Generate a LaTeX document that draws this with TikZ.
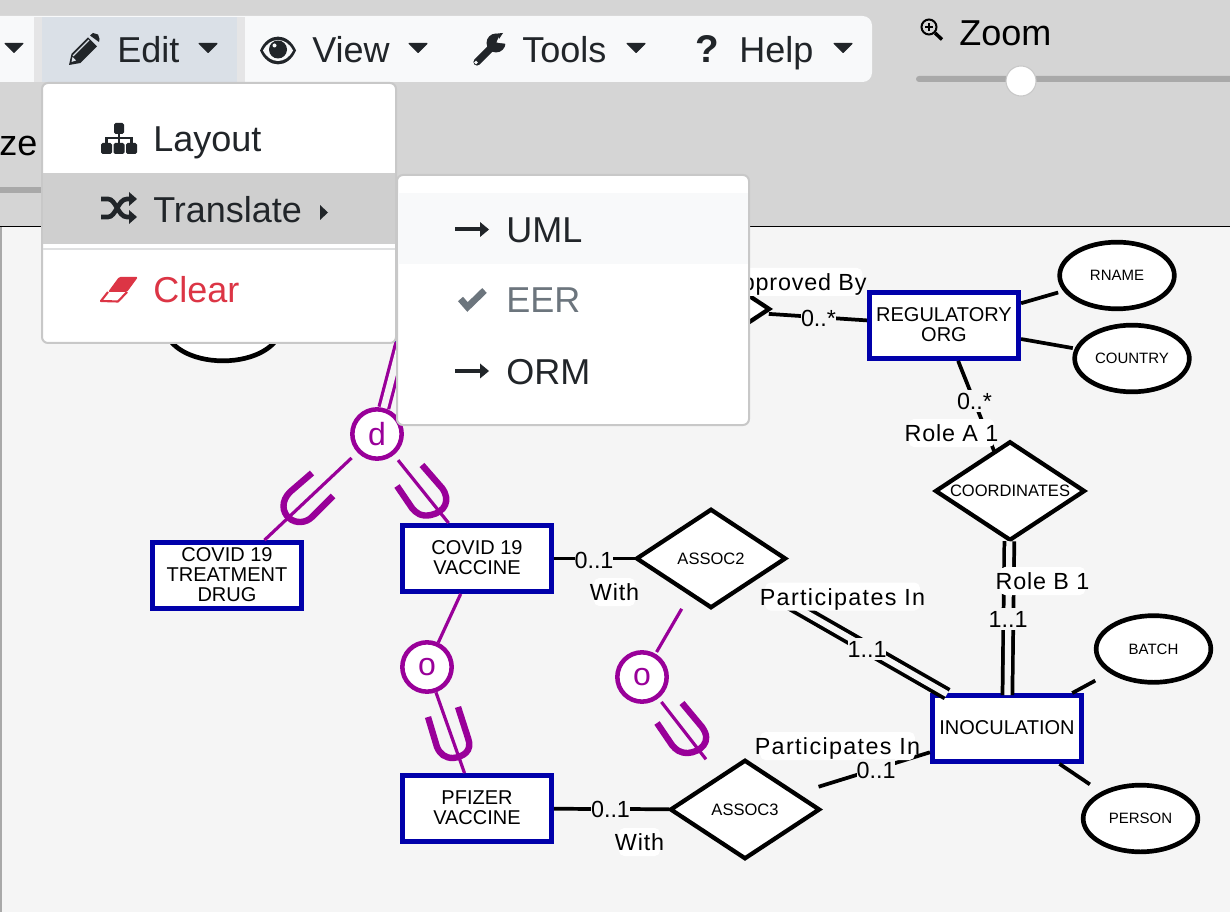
\documentclass[tikz,border=0pt]{standalone}
\usepackage{fontspec}
\setmainfont{Liberation Sans}
\newfontfamily\labfont[LetterSpace=3.5]{Liberation Sans}
\newfontfamily\partfont[LetterSpace=5.8]{Liberation Sans}
\usetikzlibrary{shapes.geometric}
\definecolor{canvasbg}{HTML}{F5F5F5}
\definecolor{panelbg}{HTML}{D5D5D5}
\definecolor{navbg}{HTML}{F8F9FA}
\definecolor{editbg}{HTML}{DAE0E7}
\definecolor{ink}{HTML}{212529}
\definecolor{mutedink}{HTML}{6C757D}
\definecolor{danger}{HTML}{DC3545}
\definecolor{eerblue}{HTML}{0000AA}
\definecolor{eerpurple}{HTML}{990099}
\definecolor{trackgray}{HTML}{A9A9A9}
\definecolor{menuedge}{HTML}{C8C8C8}
\tikzset{
  x=0.75pt,y=-0.75pt,
  entity/.style={draw=eerblue,fill=white,line width=3.6pt,minimum width=112pt,minimum height=49.5pt,inner sep=0pt,outer sep=1.8pt,label={[align=center,yshift=0.8pt,font=\fontsize{15}{15}\selectfont]center:#1}},
  attrib/.style={draw=black,fill=white,ellipse,line width=3.5pt,minimum width=86pt,minimum height=50pt,inner sep=0pt,outer sep=1.75pt,font=\fontsize{11.25}{11.25}\selectfont},
  relate/.style={draw=black,fill=white,diamond,line width=3.2pt,minimum width=112pt,minimum height=74pt,inner sep=0pt,outer sep=1pt,label={[font=\fontsize{12.4}{12.4}\selectfont]center:#1}},
  conn/.style={draw=black,line width=2.8pt},
  dbl/.style={draw=black,line width=2.8pt,double=canvasbg,double distance=4.6pt},
  special/.style={draw=eerpurple,fill=white,circle,line width=3.4pt,minimum size=37pt,inner sep=0pt,outer sep=1.7pt,text=eerpurple,font=\fontsize{24}{24}\selectfont},
  plink/.style={draw=eerpurple,line width=2.4pt},
  pdbl/.style={draw=eerpurple,line width=2.4pt,double=canvasbg,double distance=5pt},
  subset/.style={draw=eerpurple,line width=4.8pt},
  tag/.style={fill=white,rounded corners=4pt,inner xsep=-3pt,inner ysep=0pt,text height=16.9pt,text depth=4.1pt,font=\fontsize{17.5}{17.5}\labfont},
  parttag/.style={tag,inner xsep=-4pt,font=\fontsize{17.5}{17.5}\partfont},
  card/.style={fill=canvasbg,inner xsep=0pt,inner ysep=1.5pt,text height=13pt,text depth=0pt,font=\fontsize{17.5}{17.5}\selectfont},
  menutext/.style={anchor=base west,inner sep=0pt,text=ink,font=\fontsize{27}{27}\selectfont},
  menubox/.style={draw=menuedge,fill=white,line width=1.5pt,rounded corners=4.5pt},
  caret/.style={fill=ink,draw=ink,line width=0.8pt,line join=round},
}
\begin{document}
\begin{tikzpicture}
\useasboundingbox (0,0) rectangle (1230,912);
% ---- panel and canvas
\fill[panelbg] (0,0) rectangle (1230,227);
\fill[canvasbg] (0,227) rectangle (1230,912);
\fill[trackgray] (0,227) rectangle (2,912);
\draw[black,line width=0.9pt] (0,226.5) -- (1230,226.5);
% ---- entities
\node[entity={REGULATORY\\ORG}] (reg) at (944,325.5) {};
\node[entity={}] (hidden) at (410,308) {};
\node[entity={COVID 19\\TREATMENT\\DRUG}] (treat) at (227,575.5) {};
\node[entity={COVID 19\\VACCINE}] (vacc) at (477,558.5) {};
\node[entity={PFIZER\\VACCINE}] (pfizer) at (477,808.5) {};
\node[entity={INOCULATION}] (inoc) at (1007,728.5) {};
% ---- attributes
\node[attrib] (rname) at (1117,275.5) {RNAME};
\node[attrib] (country) at (1132,358.5) {COUNTRY};
\node[attrib] (batch) at (1153.5,649) {BATCH};
\node[attrib] (person) at (1140.5,818.5) {PERSON};
\node[attrib] (hiddenattr) at (223,327.5) {};
% ---- relationships
\node[relate={}] (approved) at (695,309) {};
\node[relate={COORDINATES}] (coord) at (1010,491) {};
\node[relate={ASSOC2}] (assoctwo) at (711,558.5) {};
\node[relate={ASSOC3}] (assocthree) at (745,809.5) {};
% ---- specialisation circles
\node[special] (dcirc) at (377,434) {d};
\node[special] (ocirc) at (427,667) {o};
\node[special] (otwo) at (642,677) {o};
% ---- connectors
\draw[conn,shorten >=4pt] (reg) -- (rname);
\draw[conn,shorten >=1.5pt] (reg) -- (country);
\draw[conn,shorten >=12pt] (inoc) -- (batch);
\draw[conn,shorten >=10pt] (inoc) -- (person);
\draw[conn,shorten <=3.5pt] (approved) -- (reg);
\draw[conn] (reg) -- (coord);
\draw[conn] (vacc) -- (assoctwo);
\draw[conn] (pfizer) -- (assocthree);
\draw[conn,shorten <=17pt] (assocthree) -- (inoc);
\draw[dbl,shorten >=-1.5pt] (coord) -- (inoc);
\draw[dbl,shorten <=18pt,shorten >=-1.5pt] (assoctwo) -- (inoc);
% ---- purple links
\draw[pdbl] (hidden) -- (dcirc);
\draw[plink,shorten <=6pt] (dcirc) -- (treat);
\draw[plink,shorten <=5pt] (dcirc) -- (vacc);
\draw[plink] (vacc) -- (ocirc);
\draw[plink] (ocirc) -- (pfizer);
\draw[plink,shorten <=12pt,shorten >=1.5pt] (assoctwo) -- (otwo);
\draw[plink,shorten <=3.5pt,shorten >=16pt] (otwo) -- (assocthree);
% ---- subset marks
\draw[subset] (312,473) -- (290,492) .. controls (281,501) and (282,512) .. (289,518) .. controls (296,524) and (306,523) .. (312,517) -- (333,496);
\draw[subset] (422,465) -- (442,488) .. controls (451,500) and (445,512) .. (431,515) .. controls (421,517) and (416,513) .. (412,508) -- (397,486);
\draw[subset] (458,707) -- (468,738) .. controls (473,751) and (463,757) .. (453,758) .. controls (445,758) and (440,754) .. (437,747) -- (428,717);
\draw[subset] (682,703) -- (702,727) .. controls (713,742) and (700,752) .. (688,753) .. controls (680,753) and (676,750) .. (672,745) -- (657,723);
% ---- connector labels
\node[tag] (lapp) at (796,282) {Approved By};
\node[card] (lappc) at (818.5,318) {0..*};
\node[card] (lregc) at (974.5,401) {0..*};
\node[tag] (lrolea) at (951.5,433) {Role A 1};
\node[tag] (lroleb) at (1042.5,581) {Role B 1};
\node[card] (lrolebc) at (1008,619) {1..1};
\node[parttag] (lpart) at (842.5,596.5) {Participates In};
\node[card] (lpartc) at (867,649) {1..1};
\node[parttag] (lpartb) at (837.5,746) {Participates In};
\node[card] (lpartbc) at (876,770) {0..1};
\node[card] (lvc) at (594,560) {0..1};
\node[tag] (lvw) at (614.5,592) {With};
\node[card] (lpc) at (610.5,809) {0..1};
\node[tag] (lpw) at (639.5,842) {With};
% ---- toolbar
\fill[navbg,rounded corners=7pt] (-20,16) rectangle (872,82);
\fill[panelbg!55!navbg] (34,17) rectangle (245,82);
\fill[editbg] (42,17) rectangle (237,82);
\node[menutext] (edit) at (117,63) {Edit};
\node[menutext] (view) at (312,63) {View};
\node[menutext] (tools) at (522,63) {Tools};
\node[menutext] (help) at (739,63) {Help};
\foreach \cx in {14,208,418,636,843}
  \filldraw[caret] (\cx-9,43.5) -- (\cx+9,43.5) -- (\cx,52.5) -- cycle;
% pencil
\fill[ink] (69,65) -- (71.5,54) -- (88,37.5) -- (97,46.5) -- (80.5,63) -- cycle;
\fill[ink] (90,35.5) -- (93,33) -- (98,34.5) -- (99.5,39) -- (99,42) -- cycle;
\draw[editbg,line width=1pt] (73,56) -- (89,40);
\fill[editbg] (71.5,62) -- (72.5,57) -- (76,60.5) -- cycle;
% eye
\fill[ink] (260,50.5) .. controls (268,32) and (288,32) .. (296,50.5) .. controls (288,69) and (268,69) .. (260,50.5) -- cycle;
\fill[navbg] (263,50.5) .. controls (270,36.5) and (286,36.5) .. (293,50.5) .. controls (286,64.5) and (270,64.5) .. (263,50.5) -- cycle;
\fill[ink] (278,49.5) circle[radius=9];
\fill[navbg] (274.5,45.5) circle[radius=2];
% wrench
\draw[ink,line width=5.4pt,line cap=round] (477,62) -- (492,47);
\fill[ink] (496,43) circle[radius=9.5];
\fill[navbg] (496.5,42.5) -- (502,29) -- (512,38) -- (507,44) -- cycle;
\fill[ink] (497.5,33.5) -- (503,33) -- (499,39) -- cycle;
\fill[navbg] (476,62.5) circle[radius=1.8];
% question
\node[inner sep=0pt,text=ink,font=\fontsize{29}{29}\bfseries\selectfont] (qmark) at (707,49.5) {?};
% zoom control
\node[anchor=base west,inner sep=0pt,font=\fontsize{27}{27}\selectfont] (zoomlab) at (959,46) {Zoom};
\draw[black,line width=1.5pt] (929,27) circle[radius=7.5];
\draw[black,line width=2.6pt] (935,33) -- (942,39.5);
\draw[black,line width=0.9pt] (925,27) -- (933,27) (929,23) -- (929,31);
\fill[trackgray,rounded corners=2.2pt] (916,76) rectangle (1240,82);
\node[circle,fill=white,draw=menuedge,line width=0.8pt,minimum size=22.5pt,inner sep=0pt] (knob) at (1021,81) {};
\node[anchor=base west,inner sep=0pt,text=black,font=\fontsize{27}{27}\selectfont] (zelab) at (-1,156) {ze};
\fill[trackgray] (0,187) rectangle (42,193);
% ---- submenu
\draw[menubox] (397,175) rectangle (749,425);
\fill[navbg] (398,193) rectangle (748,264);
\node[menutext] (uml) at (506,242.5) {UML};
\node[menutext,text=mutedink] (eer) at (506,313) {EER};
\node[menutext] (orm) at (506,384) {ORM};
\foreach \ay in {229.5,371} {
  \draw[ink,line width=3pt] (455,\ay) -- (483,\ay);
  \fill[ink] (480,\ay-7.5) -- (489,\ay) -- (480,\ay+7.5) -- cycle;
}
\draw[mutedink,line width=5pt] (460.5,299) -- (467.5,307) -- (484.5,290.5);
% ---- main menu
\draw[menubox] (42,83) rectangle (396,343);
\fill[panelbg!97!black] (43,173) rectangle (395,244);
\draw[navbg!90!black,line width=1.5pt] (43,249) -- (395,249);
\node[menutext] (layout) at (153,152) {Layout};
\node[menutext] (translate) at (153,222.5) {Translate};
\node[menutext,text=danger] (clear) at (153,303) {Clear};
\fill[ink] (320,205) -- (328,212.5) -- (320,220) -- cycle;
% sitemap icon
\fill[ink,rounded corners=1.2pt] (114,123) rectangle (124,134);
\fill[ink,rounded corners=1.2pt] (101,143) rectangle (112,154);
\fill[ink,rounded corners=1.2pt] (113.5,143) rectangle (124.5,154);
\fill[ink,rounded corners=1.2pt] (126,143) rectangle (137,154);
\draw[ink,line width=1.6pt] (119,134) -- (119,143) (106.5,143) -- (106.5,138) -- (131.5,138) -- (131.5,143);
% shuffle icon
\draw[ink,line width=3.5pt] (101,199) -- (108,199) .. controls (116,199) and (118,217) .. (127,217) -- (132,217);
\draw[ink,line width=3.5pt] (101,217) -- (108,217) .. controls (116,217) and (118,199) .. (127,199) -- (132,199);
\fill[ink] (129,192) -- (137,199) -- (129,206) -- cycle;
\fill[ink] (129,210) -- (137,217) -- (129,224) -- cycle;
% eraser icon
\fill[danger,rounded corners=1pt] (108,292) -- (119,277) -- (138,277) -- (127,292) -- cycle;
\draw[danger,line width=1.6pt,line join=round] (108,292) -- (101,301) -- (118,301.5) -- (127,292);
\end{tikzpicture}
\end{document}
